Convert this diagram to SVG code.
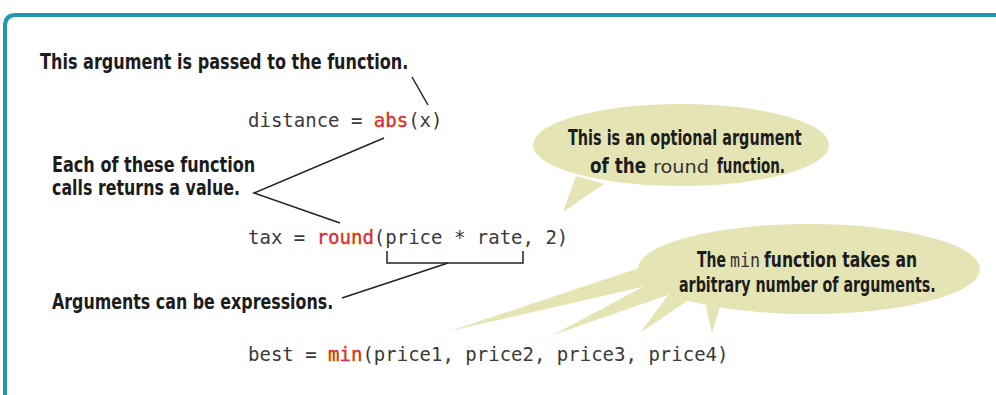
<svg xmlns="http://www.w3.org/2000/svg" width="996" height="395" viewBox="0 0 996 395">
  <style>
    .note { font-family: "DejaVu Sans", "Liberation Sans", sans-serif; font-weight: bold; font-size: 22px; fill: #1c1c1c; }
    .inline { font-family: "DejaVu Sans", "Liberation Sans", sans-serif; font-size: 18px; fill: #333; }
    .inmono { font-family: "DejaVu Sans Mono", "Liberation Mono", monospace; font-size: 19px; fill: #333; }
    .code { font-family: "DejaVu Sans Mono", "Liberation Mono", monospace; font-size: 19px; fill: #3a3a3a; }
    .fn { fill: #d9206a; stroke: #f2d21c; stroke-width: 0.9; paint-order: stroke; }
    .lead { stroke: #222; stroke-width: 1.5; fill: none; }
    .bubble { fill: #e5e4b5; }
  </style>

  <rect width="996" height="395" fill="#ffffff"/>

  <!-- teal panel frame, open to the right and bottom -->
  <path d="M5,395 V26 Q5,15 16,15 H996" fill="none" stroke="#2198ae" stroke-width="4"/>

  <!-- speech bubbles; handwritten notes are narrowed with a horizontal scale -->
  <g id="bubble-round">
    <ellipse class="bubble" cx="681" cy="145" rx="148" ry="41"/>
    <polygon class="bubble" points="576,176 604,184 563,212"/>
    <text class="note" transform="translate(568,145) scale(0.66,1)" textLength="354" lengthAdjust="spacingAndGlyphs">This is an optional argument</text>
    <text class="note" transform="translate(590,173) scale(0.66,1)" textLength="85" lengthAdjust="spacingAndGlyphs">of the</text>
    <text class="inline" x="653" y="173" textLength="56" lengthAdjust="spacingAndGlyphs">round</text>
    <text class="note" transform="translate(717,173) scale(0.66,1)" textLength="103" lengthAdjust="spacingAndGlyphs">function.</text>
  </g>

  <g id="bubble-min">
    <ellipse class="bubble" cx="809" cy="269" rx="171" ry="45"/>
    <polygon class="bubble" points="645,266 655,284 450,331"/>
    <polygon class="bubble" points="652,282 668,295 553,335"/>
    <polygon class="bubble" points="672,290 690,299 640,333"/>
    <polygon class="bubble" points="704,298 722,300 712,333"/>
    <text class="note" transform="translate(697,267) scale(0.66,1)" textLength="44" lengthAdjust="spacingAndGlyphs">The</text>
    <text class="inmono" x="730" y="267" textLength="30" lengthAdjust="spacingAndGlyphs">min</text>
    <text class="note" transform="translate(764,267) scale(0.66,1)" textLength="232" lengthAdjust="spacingAndGlyphs">function takes an</text>
    <text class="note" transform="translate(679,292) scale(0.66,1)" textLength="389" lengthAdjust="spacingAndGlyphs">arbitrary number of arguments.</text>
  </g>

  <!-- code lines -->
  <g id="code-abs">
    <text class="code" x="248" y="127">distance = <tspan class="fn">abs</tspan>(x)</text>
  </g>
  <g id="code-round">
    <text class="code" x="248" y="244">tax = <tspan class="fn">round</tspan>(price * rate, 2)</text>
  </g>
  <g id="code-min">
    <text class="code" x="248" y="361">best = <tspan class="fn">min</tspan>(price1, price2, price3, price4)</text>
  </g>

  <!-- callout labels -->
  <g id="label-argument">
    <text class="note" transform="translate(40,69) scale(0.66,1)" textLength="558" lengthAdjust="spacingAndGlyphs">This argument is passed to the function.</text>
  </g>
  <g id="label-returns">
    <text class="note" transform="translate(52,172) scale(0.66,1)" textLength="308" lengthAdjust="spacingAndGlyphs">Each of these function</text>
    <text class="note" transform="translate(52,195) scale(0.66,1)" textLength="285" lengthAdjust="spacingAndGlyphs">calls returns a value.</text>
  </g>
  <g id="label-expressions">
    <text class="note" transform="translate(52,309) scale(0.66,1)" textLength="426" lengthAdjust="spacingAndGlyphs">Arguments can be expressions.</text>
  </g>

  <!-- leader lines -->
  <g id="connectors">
    <line class="lead" x1="412" y1="77" x2="428" y2="105"/>
    <polyline class="lead" points="384,138 254,193 340,223"/>
    <path class="lead" stroke-width="2" d="M387,251 V263 H523 V251"/>
    <line class="lead" x1="448" y1="263" x2="342" y2="298"/>
  </g>
</svg>
